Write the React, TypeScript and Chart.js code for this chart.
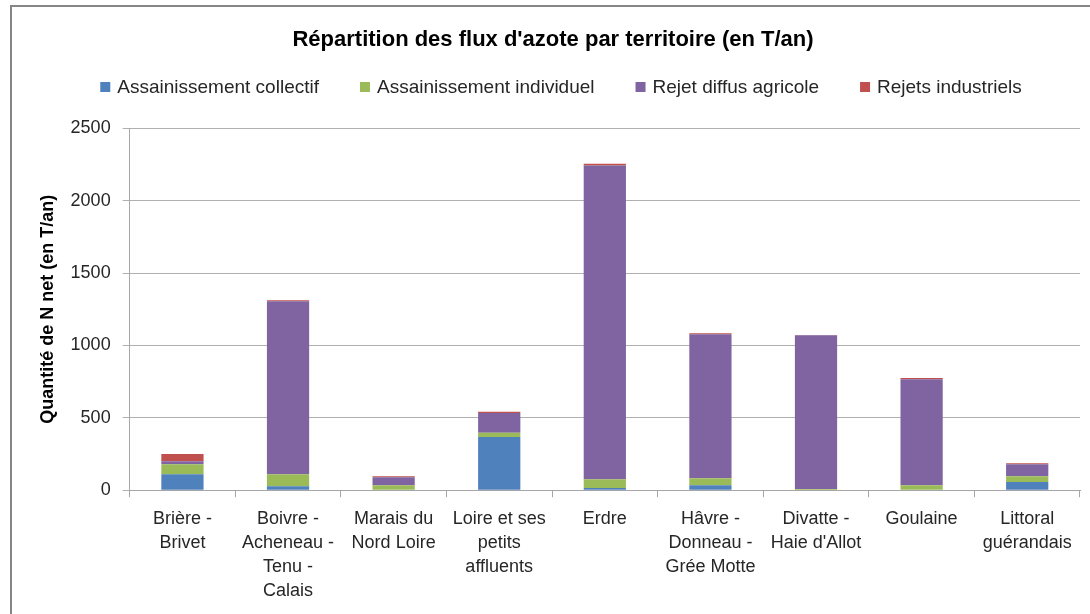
import React, { useEffect, useRef } from "react";
import { Chart, registerables } from "chart.js";

Chart.register(...registerables);

const categories: string[][] = [
  ["Brière -", "Brivet"],
  ["Boivre -", "Acheneau -", "Tenu -", "Calais"],
  ["Marais du", "Nord Loire"],
  ["Loire et ses", "petits", "affluents"],
  ["Erdre"],
  ["Hâvre -", "Donneau -", "Grée Motte"],
  ["Divatte -", "Haie d'Allot"],
  ["Goulaine"],
  ["Littoral", "guérandais"],
];

const collectif = [110, 28, 3, 368, 16, 35, 0, 3, 57];
const individuel = [70, 82, 32, 30, 60, 48, 8, 32, 40];
const agricole = [20, 1195, 55, 136, 2168, 994, 1062, 732, 83];
const industriels = [50, 7, 7, 9, 12, 8, 2, 9, 6];

const seriesNames = [
  "Assainissement collectif",
  "Assainissement individuel",
  "Rejet diffus agricole",
  "Rejets industriels",
];
const seriesColors = ["#4F81BD", "#9BBB59", "#8064A2", "#C0504D"];

const yTicks = [0, 500, 1000, 1500, 2000, 2500];

const FONT = "'Liberation Sans', Arial, sans-serif";
const TEXT = "#262626";

const framePlugin = {
  id: "frameAndLegend",
  afterDraw(chart: any) {
    const ctx = chart.ctx as CanvasRenderingContext2D;
    ctx.save();
    // outer frame
    ctx.strokeStyle = "#868686";
    ctx.lineWidth = 2;
    ctx.strokeRect(11, 6, chart.width + 20, chart.height + 20);
    // legend
    ctx.font = `19px ${FONT}`;
    const box = 10;
    const gapBox = 7;
    const gapItem = 41;
    const widths = seriesNames.map((n) => ctx.measureText(n).width);
    const total =
      widths.reduce((a, b) => a + b, 0) +
      seriesNames.length * (box + gapBox) +
      gapItem * (seriesNames.length - 1);
    const cx = 561;
    let x = cx - total / 2;
    const y = 87;
    ctx.textBaseline = "middle";
    ctx.textAlign = "left";
    seriesNames.forEach((n, i) => {
      ctx.fillStyle = seriesColors[i];
      ctx.fillRect(x, y - box / 2, box, box);
      x += box + gapBox;
      ctx.fillStyle = TEXT;
      ctx.fillText(n, x, y + 1);
      x += widths[i] + gapItem;
    });
    ctx.restore();
  },
};

export default function App() {
  const ref = useRef<HTMLCanvasElement | null>(null);
  useEffect(() => {
    document.body.style.margin = "0";
    const c = ref.current;
    if (!c) return;
    const data = [collectif, individuel, agricole, industriels];
    const chart = new Chart(c, {
      type: "bar",
      data: {
        labels: categories as any,
        datasets: data.map((d, i) => ({
          label: seriesNames[i],
          data: d,
          backgroundColor: seriesColors[i],
          borderWidth: 0,
          barPercentage: 0.4,
          categoryPercentage: 1,
        })),
      },
      options: {
        responsive: false,
        animation: false,
        devicePixelRatio: 1,
        layout: { padding: { left: 26, right: 10, top: 0, bottom: 1 } },
        plugins: {
          legend: { display: false },
          tooltip: { enabled: false },
          title: {
            display: true,
            text: "Répartition des flux d'azote par territoire (en T/an)",
            color: "#000000",
            font: { family: FONT, size: 22, weight: "bold" },
            padding: { top: 27, bottom: 75 },
          },
        },
        scales: {
          x: {
            stacked: true,
            grid: {
              display: true,
              offset: true,
              drawOnChartArea: false,
              drawTicks: true,
              tickLength: 7,
              color: "#a6a6a6",
            },
            border: { display: true, color: "#a6a6a6", width: 1 },
            ticks: {
              color: TEXT,
              font: { family: FONT, size: 18, lineHeight: 1.33 },
              padding: 10,
              maxRotation: 0,
              autoSkip: false,
            },
          },
          y: {
            stacked: true,
            min: 0,
            max: 2500,
            afterBuildTicks: (axis: any) => {
              axis.ticks = yTicks.map((v) => ({ value: v }));
            },
            grid: {
              color: "#b0b0b0",
              lineWidth: 1,
              drawTicks: true,
              tickLength: 7,
            },
            border: { display: true, color: "#a6a6a6", width: 1 },
            ticks: {
              color: TEXT,
              font: { family: FONT, size: 18 },
              padding: 12,
              callback: (v: any) => String(v),
            },
            title: {
              display: true,
              text: "Quantité de N net (en T/an)",
              color: "#000000",
              font: { family: FONT, size: 18, weight: "bold" },
              padding: { top: 11, bottom: 0 },
            },
          },
        },
      },
      plugins: [framePlugin],
    });
    return () => chart.destroy();
  }, []);
  return (
    <div style={{ width: 1090, height: 614, position: "relative", background: "#fff" }}>
      <canvas ref={ref} width={1090} height={614} style={{ display: "block" }} />
    </div>
  );
}
